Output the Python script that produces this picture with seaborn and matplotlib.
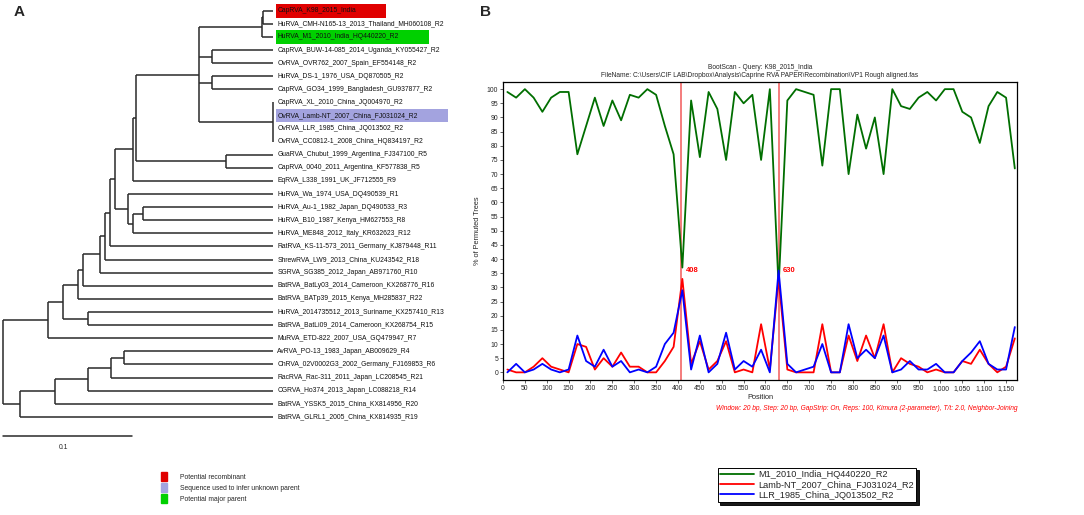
import matplotlib
matplotlib.use("Agg")
import matplotlib.pyplot as plt
from matplotlib.patches import Patch, Rectangle
from matplotlib.lines import Line2D
from matplotlib.ticker import FuncFormatter, MultipleLocator
from matplotlib import font_manager
import pandas as pd
import seaborn as sns

# ── Configuration ────────────────────────────────────────────────────────────
sns.set_style("white")
plt.rcParams["font.family"] = ["Liberation Sans", "DejaVu Sans"]
W, H, DPI = 1084, 515, 100
installed = {f.name for f in font_manager.fontManager.ttflist}
NARROW = "Liberation Sans Narrow" if "Liberation Sans Narrow" in installed else "Liberation Sans"
print("narrow font:", NARROW)
LEAF_FS = 5.9 if NARROW.endswith("Narrow") else 4.9

# ── Panel A: tree data ───────────────────────────────────────────────────────
leaf_labels = [
    "CapRVA_K98_2015_India",
    "HuRVA_CMH-N165-13_2013_Thailand_MH060108_R2",
    "HuRVA_M1_2010_India_HQ440220_R2",
    "CapRVA_BUW-14-085_2014_Uganda_KY055427_R2",
    "OvRVA_OVR762_2007_Spain_EF554148_R2",
    "HuRVA_DS-1_1976_USA_DQ870505_R2",
    "CapRVA_GO34_1999_Bangladesh_GU937877_R2",
    "CapRVA_XL_2010_China_JQ004970_R2",
    "OvRVA_Lamb-NT_2007_China_FJ031024_R2",
    "OvRVA_LLR_1985_China_JQ013502_R2",
    "OvRVA_CC0812-1_2008_China_HQ834197_R2",
    "GuaRVA_Chubut_1999_Argentina_FJ347100_R5",
    "CapRVA_0040_2011_Argentina_KF577838_R5",
    "EqRVA_L338_1991_UK_JF712555_R9",
    "HuRVA_Wa_1974_USA_DQ490539_R1",
    "HuRVA_Au-1_1982_Japan_DQ490533_R3",
    "HuRVA_B10_1987_Kenya_HM627553_R8",
    "HuRVA_ME848_2012_Italy_KR632623_R12",
    "RatRVA_KS-11-573_2011_Germany_KJ879448_R11",
    "ShrewRVA_LW9_2013_China_KU243542_R18",
    "SGRVA_SG385_2012_Japan_AB971760_R10",
    "BatRVA_BatLy03_2014_Cameroon_KX268776_R16",
    "BatRVA_BATp39_2015_Kenya_MH285837_R22",
    "HuRVA_2014735512_2013_Suriname_KX257410_R13",
    "BatRVA_BatLi09_2014_Cameroon_KX268754_R15",
    "MuRVA_ETD-822_2007_USA_GQ479947_R7",
    "AvRVA_PO-13_1983_Japan_AB009629_R4",
    "ChRVA_02V0002G3_2002_Germany_FJ169853_R6",
    "RacRVA_Rac-311_2011_Japan_LC208545_R21",
    "CGRVA_Ho374_2013_Japan_LC088218_R14",
    "BatRVA_YSSK5_2015_China_KX814956_R20",
    "BatRVA_GLRL1_2005_China_KX814935_R19",
]
tip_depth = 0.2093
# (node depth from root, [children]); ints are leaf indices
tree = (0.0, [
    (0.0349, [
        (0.0465, [
            (0.0581, [
                (0.0615, [
                    (0.0749, [
                        (0.0788, [
                            (0.0827, [
                                (0.0866, [
                                    (0.1003, [
                                        (0.1028, [
                                            (0.1519, [
                                                (0.2005, [(0.2016, [0, 1]), 2]),
                                                (0.1618, [3, 4]),
                                                (0.1618, [5, 6]),
                                                (0.2088, [7, 8, 9, 10]),
                                            ]),
                                            (0.1726, [11, 12]),
                                        ]),
                                        13,
                                    ]),
                                    (0.0964, [14, (0.1003, [(0.1085, [15, 16]), 17])]),
                                ]),
                                18,
                            ]),
                            19,
                        ]),
                        20,
                    ]),
                    21,
                ]),
                22,
            ]),
            (0.0659, [23, 24]),
        ]),
        25,
    ]),
    (0.0129, [
        (0.0401, [
            (0.0659, [
                (0.0835, [(0.0935, [26, 27]), 28]),
                29,
            ]),
            30,
        ]),
        31,
    ]),
])
highlights = {0: "#e00000", 2: "#00d000", 8: "#a3a3df"}
legend_a_labels = ["Potential recombinant", "Sequence used to infer unknown parent",
                   "Potential major parent"]
legend_a_colors = ["#e00000", "#a3a3df", "#00d000"]
scale_len = 0.1

# ── Panel B: bootscan data ───────────────────────────────────────────────────
positions = [10, 30, 50, 70, 90, 110, 130, 150, 170, 190,
             210, 230, 250, 270, 290, 310, 330, 350, 370, 390,
             410, 430, 450, 470, 490, 510, 530, 550, 570, 590,
             610, 630, 650, 670, 690, 710, 730, 750, 770, 790,
             810, 830, 850, 870, 890, 910, 930, 950, 970, 990,
             1010, 1030, 1050, 1070, 1090, 1110, 1130, 1150, 1170]
m1_vals = [99, 97, 100, 97, 92, 97, 99, 99, 77, 87,
           97, 87, 96, 89, 98, 97, 100, 98, 87, 77,
           37, 96, 76, 99, 93, 75, 99, 95, 98, 75,
           100, 30, 96, 100, 99, 98, 73, 100, 100, 70,
           91, 79, 90, 70, 100, 94, 93, 97, 99, 96,
           100, 100, 92, 90, 81, 94, 99, 97, 72]
lamb_vals = [1, 0, 0, 2, 5, 2, 1, 0, 10, 9,
             1, 5, 2, 7, 2, 2, 0, 0, 4, 9,
             33, 3, 11, 1, 4, 11, 0, 1, 0, 17,
             1, 33, 1, 0, 0, 0, 17, 0, 0, 13,
             4, 13, 5, 17, 0, 5, 3, 2, 0, 1,
             0, 0, 4, 3, 8, 3, 0, 2, 12]
llr_vals = [0, 3, 0, 1, 3, 1, 0, 1, 13, 4,
            2, 8, 2, 4, 0, 1, 0, 2, 10, 14,
            29, 1, 13, 0, 3, 14, 1, 4, 2, 8,
            0, 36, 3, 0, 1, 2, 10, 0, 0, 17,
            5, 8, 5, 13, 0, 1, 4, 1, 1, 3,
            0, 0, 4, 7, 11, 3, 1, 1, 16]
series_names = ["M1_2010_India_HQ440220_R2", "Lamb-NT_2007_China_FJ031024_R2",
                "LLR_1985_China_JQ013502_R2"]
series_colors = ["#006e00", "#ff0000", "#0000ff"]
breakpoints = [408, 630]

fig = plt.figure(figsize=(W / DPI, H / DPI), dpi=DPI)

# ── Panel A: draw tree ───────────────────────────────────────────────────────
PX_UNIT, ROOT_PX, LEAF0_PX, LEAF_PX = 1290.0, 3.3, 10.7, 13.1
ax_a = fig.add_axes([0, 0, 0.44, 1])
ax_a.set_xlim(-ROOT_PX / PX_UNIT, (0.44 * W - ROOT_PX) / PX_UNIT)
ax_a.set_ylim((H - LEAF0_PX) / LEAF_PX, -LEAF0_PX / LEAF_PX)
ax_a.axis("off")
line_kw = dict(color="#2a2a2a", lw=1.1, solid_capstyle="butt")


def draw(node, parent_depth):
    if isinstance(node, int):
        ax_a.plot([parent_depth, tip_depth], [node, node], **line_kw)
        return node
    depth, children = node
    ys = [draw(c, depth) for c in children]
    ax_a.plot([depth, depth], [min(ys), max(ys)], **line_kw)
    y = (min(ys) + max(ys)) / 2
    ax_a.plot([parent_depth, depth], [y, y], **line_kw)
    return y


draw(tree, tree[0])

texts = {}
for i, lab in enumerate(leaf_labels):
    texts[i] = ax_a.text(tip_depth + 4 / PX_UNIT, i, lab, fontsize=LEAF_FS,
                         family=[NARROW, "DejaVu Sans"],
                         va="center", ha="left", color="#111111", zorder=3)

fig.canvas.draw()
inv = ax_a.transData.inverted()
for i, col in highlights.items():
    bb = texts[i].get_window_extent()
    x0 = inv.transform((bb.x0 - 1, 0))[0]
    x1 = inv.transform((bb.x1 + 30, 0))[0]
    ax_a.add_patch(Rectangle((x0, i - 0.52), x1 - x0, 1.04, color=col, zorder=1, lw=0))

# scale bar
ax_a.plot([0, scale_len], [32.45, 32.45], color="#2a2a2a", lw=1.1)
ax_a.text(scale_len * 0.47, 33.35, f"{scale_len:g}", fontsize=LEAF_FS,
          family=[NARROW, "DejaVu Sans"], ha="center", va="center")

ax_a.legend([Patch(color=c) for c in legend_a_colors], legend_a_labels,
            loc="upper left", bbox_to_anchor=(155 / (0.44 * W), 1 - 466 / H),
            frameon=False, prop={"family": NARROW, "size": LEAF_FS},
            handlelength=0.8, handleheight=1.65, labelspacing=0.3, handletextpad=2.0)

# ── Panel B: bootscan ────────────────────────────────────────────────────────
ax_b = fig.add_axes([503 / W, 1 - 380 / H, 514 / W, 298.5 / H])
boot = pd.DataFrame({
    "Position": positions * 3,
    "pct": m1_vals + lamb_vals + llr_vals,
    "seq": [s for s in series_names for _ in positions],
})
for bp in breakpoints:
    ax_b.axvline(bp, color="#f47c7c", lw=1.4, zorder=1)
sns.lineplot(data=boot, x="Position", y="pct", hue="seq", hue_order=series_names,
             palette=series_colors, ax=ax_b, lw=1.3, legend=False, zorder=2)
for bp in breakpoints:
    ax_b.text(bp + 9, 36, str(bp), color="red", fontsize=5.5, va="center",
              fontweight="bold")

ax_b.set_xlim(0, 1175)
ax_b.set_ylim(-2.7, 102.7)
ax_b.xaxis.set_major_locator(MultipleLocator(50))
ax_b.yaxis.set_major_locator(MultipleLocator(5))
ax_b.xaxis.set_major_formatter(FuncFormatter(lambda v, p: f"{v:,.0f}"))
ax_b.tick_params(labelsize=4.9, length=2, width=0.5, pad=1.5, direction="out",
                 bottom=True, left=True)
ax_b.set_xlabel("Position", fontsize=5.3, labelpad=1.5)
ax_b.set_ylabel("% of Permuted Trees", fontsize=5.3, labelpad=4)
for s in ax_b.spines.values():
    s.set_color("black")
    s.set_linewidth(0.9)
ax_b.set_title("BootScan - Query: K98_2015_India\n"
               r"FileName: C:\Users\CIF LAB\Dropbox\Analysis\Caprine RVA PAPER"
               r"\Recombination\VP1 Rough aligned.fas",
               fontsize=4.8, pad=3, linespacing=1.35)
fig.text(1017 / W, 1 - 408 / H,
         "Window: 20 bp, Step: 20 bp, GapStrip: On, Reps: 100, Kimura (2-parameter), "
         "T/t: 2.0, Neighbor-Joining",
         color="red", fontsize=4.8, style="italic", ha="right", va="center")

handles = [Line2D([], [], color=c, lw=1.3) for c in series_colors]
leg = fig.legend(handles, series_names, loc="center",
                 bbox_to_anchor=(817 / W, 1 - 485 / H), frameon=True,
                 shadow={"color": "black", "alpha": 0.9},
                 fancybox=False, edgecolor="black", fontsize=6.6, handlelength=3.7,
                 borderpad=0.3, labelspacing=0.12, handletextpad=0.4)
leg.get_frame().set_linewidth(0.7)

# panel letters
fig.text(14 / W, 1 - 12 / H, "A", fontsize=11, fontweight="bold", va="center")
fig.text(480 / W, 1 - 12 / H, "B", fontsize=11, fontweight="bold", va="center")

fig.savefig("out.png", dpi=DPI)
